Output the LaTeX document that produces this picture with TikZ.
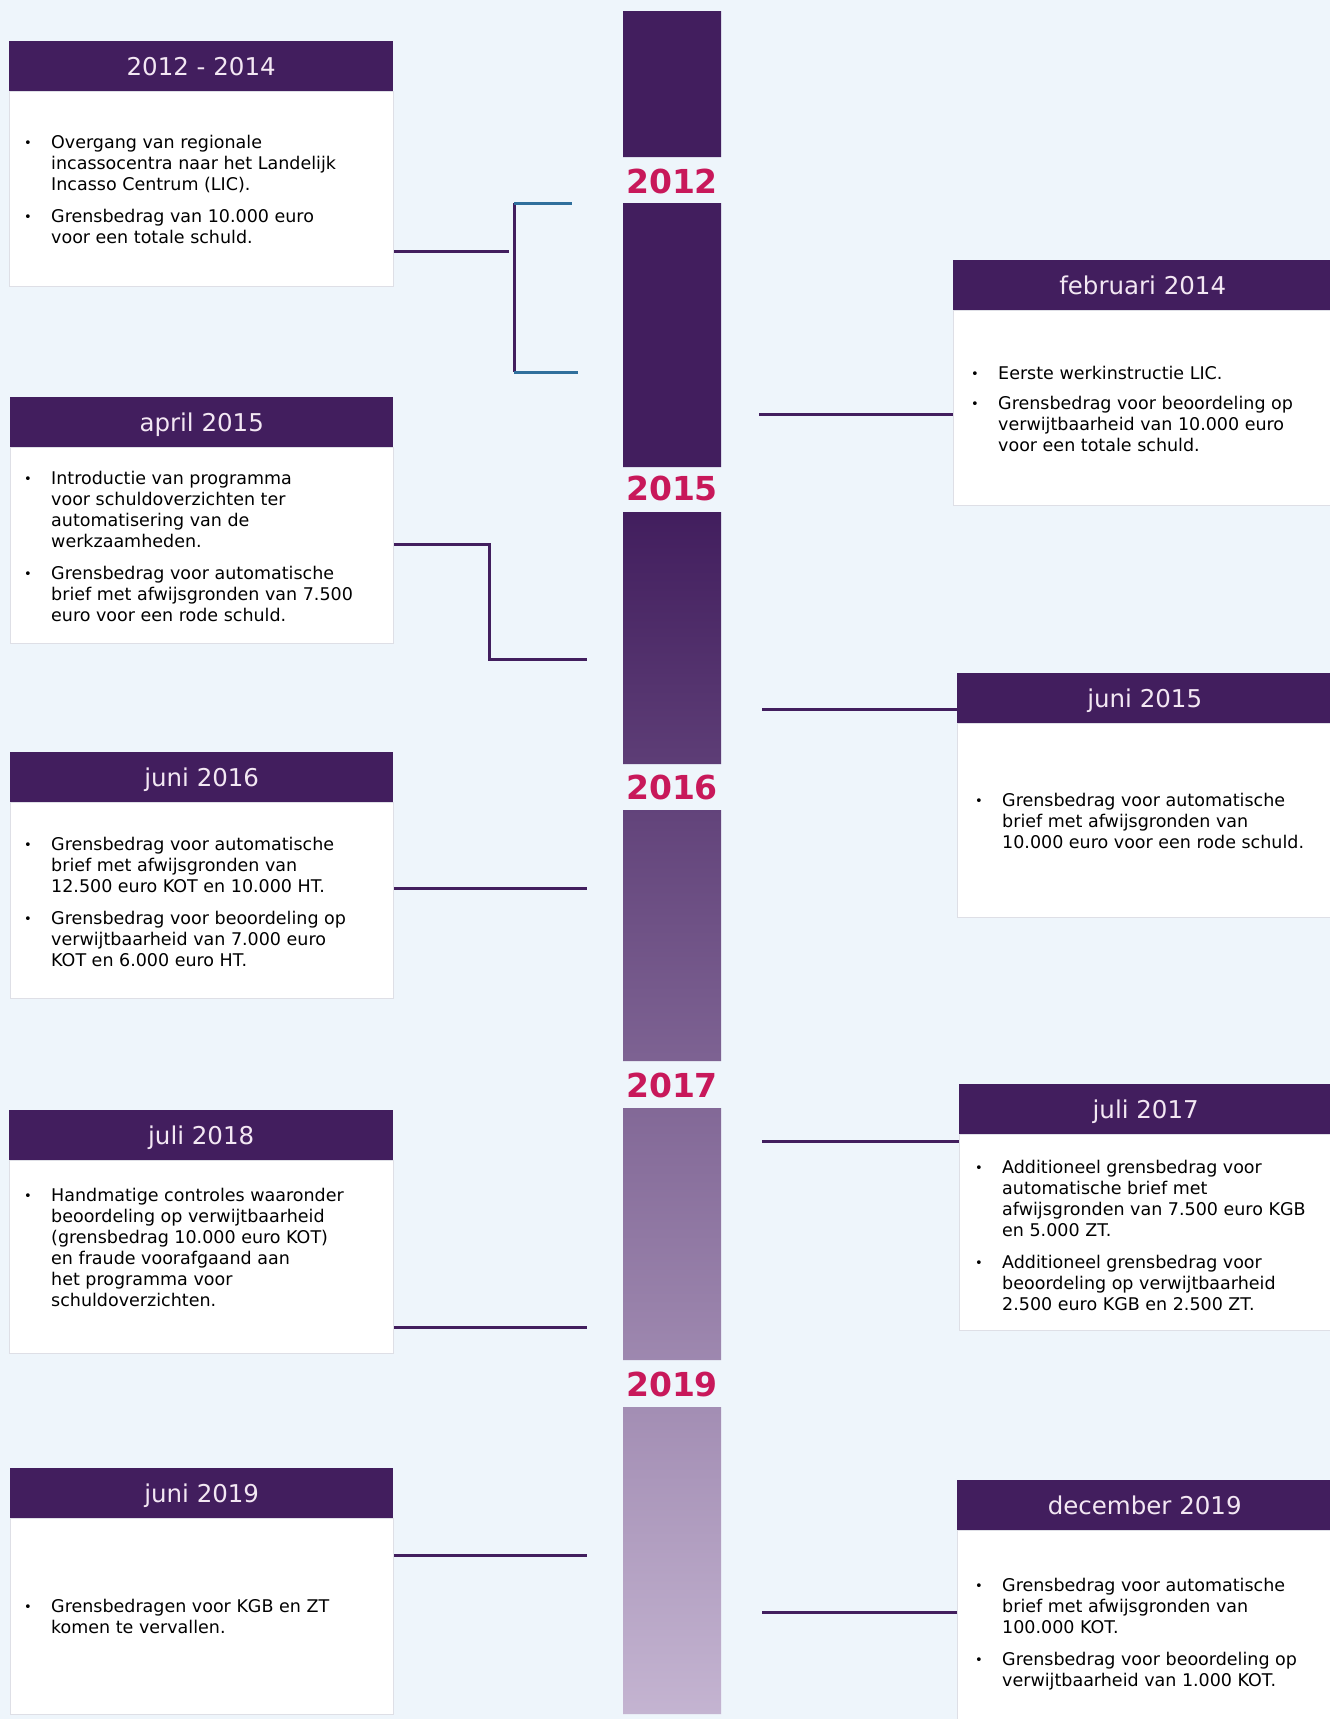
\documentclass[tikz,border=0pt]{standalone}
\usepackage{fontspec}
\setmainfont{DejaVu Sans}
\usetikzlibrary{positioning}
\definecolor{achtergrond}{HTML}{EEF5FB}
\definecolor{paars}{HTML}{421E5E}
\definecolor{paarslicht}{HTML}{C4B4D1}
\definecolor{roze}{HTML}{C8185A}
\definecolor{kopletter}{HTML}{F3E7F3}
\definecolor{blauw}{HTML}{2F6F9C}
\definecolor{rand}{HTML}{DEDFE6}
\tikzset{
	kop/.style = {rectangle, fill=paars, text=kopletter, anchor=north west,
		minimum height=50, inner sep=0pt, text height=18pt, text depth=0pt,
		font=\fontsize{24.5}{29}\selectfont},% paarse kopbalk
	vak/.style = {rectangle, fill=white, draw=rand, line width=1pt,
		anchor=north west, inner sep=0pt},% wit tekstvak
	tekst/.style = {anchor=north west, inner sep=0pt, align=left,
		font=\fontsize{17.5}{21}\selectfont},
	jaar/.style = {text=roze, inner sep=0pt,
		font=\fontsize{33}{36}\selectfont\bfseries},
	lijn/.style = {draw=paars, line width=3pt},
	haak/.style = {draw=blauw, line width=3pt}
}
\newcommand{\opsom}[1]{\begin{tabular}{@{}p{27pt}@{}l@{}}#1\end{tabular}}
\newcommand{\bol}{\raisebox{1pt}{\fontsize{13}{13}\selectfont\textbullet}}

\begin{document}
\begin{tikzpicture}[x=1pt,y=-1pt]
\useasboundingbox (0,0) rectangle (1330,1719);
\fill[achtergrond] (0,0) rectangle (1330,1719);

% tijdbalk
\fill[paars] (623,11) rectangle (721,157) (623,203) rectangle (721,467);
\shade[top color=paars, bottom color=paarslicht]
	(623,512) rectangle (721,764) (623,810) rectangle (721,1061)
	(623,1108) rectangle (721,1360) (623,1407) rectangle (721,1714);
\node[jaar] (j2012) at (672,181) {2012};
\node[jaar] (j2015) at (672,488) {2015};
\node[jaar] (j2016) at (672,787) {2016};
\node[jaar] (j2017) at (672,1085) {2017};
\node[jaar] (j2019) at (672,1384) {2019};

% links
\node[kop, minimum width=384] (k1) at (9,41) {2012 - 2014};
\node[vak, minimum width=384, minimum height=195] (v1) at (k1.south west) {};
\node[tekst] (t1) at (24,133.5) {\opsom{
	\bol & Overgang van regionale\\
	& incassocentra naar het Landelijk\\
	& Incasso Centrum (LIC).\\[11pt]
	\bol & Grensbedrag van 10.000 euro\\
	& voor een totale schuld.}};

\node[kop, minimum width=383] (k2) at (10,397) {april 2015};
\node[vak, minimum width=383, minimum height=196] (v2) at (k2.south west) {};
\node[tekst] (t2) at (24,469.5) {\opsom{
	\bol & Introductie van programma\\
	& voor schuldoverzichten ter\\
	& automatisering van de\\
	& werkzaamheden.\\[11pt]
	\bol & Grensbedrag voor automatische\\
	& brief met afwijsgronden van 7.500\\
	& euro voor een rode schuld.}};

\node[kop, minimum width=383] (k3) at (10,752) {juni 2016};
\node[vak, minimum width=383, minimum height=196] (v3) at (k3.south west) {};
\node[tekst] (t3) at (24,835.5) {\opsom{
	\bol & Grensbedrag voor automatische\\
	& brief met afwijsgronden van\\
	& 12.500 euro KOT en 10.000 HT.\\[11pt]
	\bol & Grensbedrag voor beoordeling op\\
	& verwijtbaarheid van 7.000 euro\\
	& KOT en 6.000 euro HT.}};

\node[kop, minimum width=384] (k4) at (9,1110) {juli 2018};
\node[vak, minimum width=384, minimum height=193] (v4) at (k4.south west) {};
\node[tekst] (t4) at (24,1186.5) {\opsom{
	\bol & Handmatige controles waaronder\\
	& beoordeling op verwijtbaarheid\\
	& (grensbedrag 10.000 euro KOT)\\
	& en fraude voorafgaand aan\\
	& het programma voor\\
	& schuldoverzichten.}};

\node[kop, minimum width=383] (k5) at (10,1468) {juni 2019};
\node[vak, minimum width=383, minimum height=196] (v5) at (k5.south west) {};
\node[tekst] (t5) at (24,1597.5) {\opsom{
	\bol & Grensbedragen voor KGB en ZT\\
	& komen te vervallen.}};

% rechts
\node[kop, minimum width=379] (k6) at (953,260) {februari 2014};
\node[vak, minimum width=379, minimum height=195] (v6) at (k6.south west) {};
\node[tekst] (t6) at (971,364.5) {\opsom{
	\bol & Eerste werkinstructie LIC.\\[9pt]
	\bol & Grensbedrag voor beoordeling op\\
	& verwijtbaarheid van 10.000 euro\\
	& voor een totale schuld.}};

\node[kop, minimum width=375] (k7) at (957,673) {juni 2015};
\node[vak, minimum width=375, minimum height=194] (v7) at (k7.south west) {};
\node[tekst] (t7) at (975,791.5) {\opsom{
	\bol & Grensbedrag voor automatische\\
	& brief met afwijsgronden van\\
	& 10.000 euro voor een rode schuld.}};

\node[kop, minimum width=373] (k8) at (959,1084) {juli 2017};
\node[vak, minimum width=373, minimum height=196] (v8) at (k8.south west) {};
\node[tekst] (t8) at (975,1158.5) {\opsom{
	\bol & Additioneel grensbedrag voor\\
	& automatische brief met\\
	& afwijsgronden van 7.500 euro KGB\\
	& en 5.000 ZT.\\[11pt]
	\bol & Additioneel grensbedrag voor\\
	& beoordeling op verwijtbaarheid\\
	& 2.500 euro KGB en 2.500 ZT.}};

\node[kop, minimum width=375] (k9) at (957,1480) {december 2019};
\node[vak, minimum width=375, minimum height=245] (v9) at (k9.south west) {};
\node[tekst] (t9) at (975,1576.5) {\opsom{
	\bol & Grensbedrag voor automatische\\
	& brief met afwijsgronden van\\
	& 100.000 KOT.\\[11pt]
	\bol & Grensbedrag voor beoordeling op\\
	& verwijtbaarheid van 1.000 KOT.}};

% verbindingen
\coordinate (p1) at (509,251);
\coordinate (ha) at (514,203);
\coordinate (hb) at (514,372);
\draw[lijn] (v1.east |- p1) -- (p1);
\draw[lijn] (ha) -- (hb);
\draw[haak] (ha) -- ++(58,0);
\draw[haak] (hb) -- ++(64,0);
\coordinate (p2) at (587,659);
\draw[lijn] (v2.east |- 0,544) -- ++(95,0) |- (p2);
\coordinate (p3) at (587,888);
\draw[lijn] (v3.east |- p3) -- (p3);
\coordinate (p4) at (587,1327);
\draw[lijn] (v4.east |- p4) -- (p4);
\coordinate (p5) at (587,1555);
\draw[lijn] (v5.east |- p5) -- (p5);
\coordinate (p6) at (759,414);
\draw[lijn] (p6) -- (v6.west |- p6);
\coordinate (p7) at (762,709);
\draw[lijn] (p7) -- (k7.west |- p7);
\coordinate (p8) at (762,1141);
\draw[lijn] (p8) -- (v8.west |- p8);
\coordinate (p9) at (762,1612);
\draw[lijn] (p9) -- (v9.west |- p9);
\end{tikzpicture}
\end{document}
